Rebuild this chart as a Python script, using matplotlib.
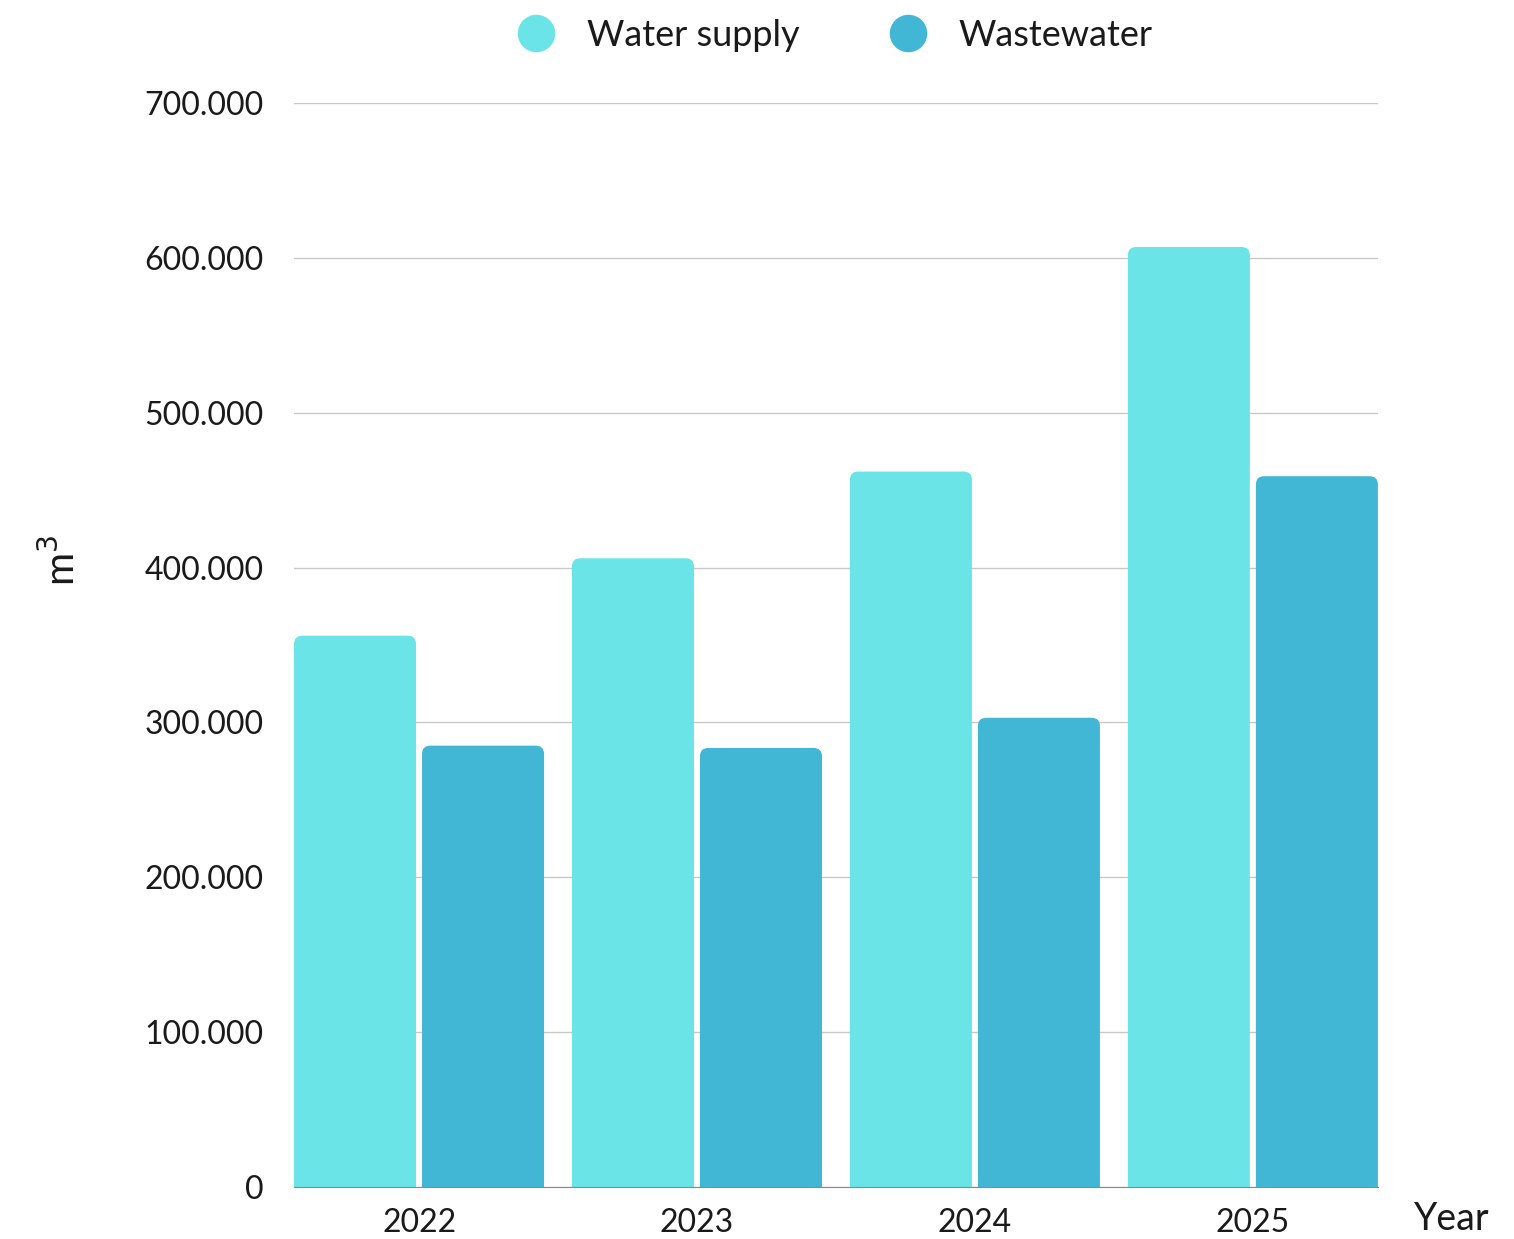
import matplotlib
matplotlib.use("Agg")
import matplotlib.pyplot as plt
from matplotlib.patches import FancyBboxPatch
from matplotlib.lines import Line2D
from matplotlib.ticker import FuncFormatter

years = ["2022", "2023", "2024", "2025"]
water_supply = [356000, 406000, 462000, 607000]
wastewater = [285000, 283500, 303000, 459000]
series_names = ["Water supply", "Wastewater"]
colors = ["#6be4e8", "#42b6d5"]

plt.rcParams['font.family'] = ['Lato', 'DejaVu Sans']

fig = plt.figure(figsize=(15.14, 12.39), dpi=100)
ax = fig.add_axes([294/1514, 1 - 1187/1239, 1084/1514, 1084/1239])

bw = 0.439
gap = 0.0216
x = list(range(len(years)))
b1 = ax.bar([i - 0.45 for i in x], water_supply, width=bw, align='edge', color=colors[0])
b2 = ax.bar([i - 0.45 + bw + gap for i in x], wastewater, width=bw, align='edge', color=colors[1])

ax.set_xlim(-0.45, len(years) - 1 + 0.45)
ax.set_ylim(0, 700000)

# swap plain bars for ones with rounded tops (bottom rounding falls below 0 and is clipped)
rad = 0.03
aspect = 179500
for bars in (b1, b2):
    for p in bars.patches:
        x0, y0 = p.get_x(), p.get_y()
        w, h = p.get_width(), p.get_height()
        rp = FancyBboxPatch((x0, y0 - 20000), w, h + 20000,
                            boxstyle=f"round,pad=0,rounding_size={rad}",
                            mutation_aspect=aspect, facecolor=p.get_facecolor(),
                            edgecolor='none', zorder=2)
        p.set_visible(False)
        ax.add_patch(rp)

ax.set_yticks(range(0, 700001, 100000))
ax.yaxis.set_major_formatter(FuncFormatter(lambda v, _: f"{int(v):,}".replace(",", ".")))
ax.set_xticks(x)
ax.set_xticklabels(years)
ax.tick_params(axis='both', length=0, labelsize=23, colors='#1a1a1a')
ax.tick_params(axis='y', pad=22)
ax.tick_params(axis='x', pad=15)

ax.grid(axis='y', color='#c8c8c8', lw=1)
ax.set_axisbelow(True)
for s in ['top', 'right', 'left']:
    ax.spines[s].set_visible(False)
ax.spines['bottom'].set_color('#888888')
ax.spines['bottom'].set_zorder(3)

ax.set_ylabel("m$^3$", fontsize=29, color='#1a1a1a')
ax.yaxis.set_label_coords(-0.196, 0.578)

fig.text(1452/1514, 1 - 1219/1239, "Year", fontsize=27, color='#1a1a1a', ha='center', va='center')

handles = [Line2D([], [], marker='o', ls='none', markersize=27, markerfacecolor=c,
                  markeredgecolor='none') for c in colors]
fig.legend(handles, series_names, loc='center', bbox_to_anchor=(826/1514, 1 - 35/1239),
           ncol=2, frameon=False, fontsize=26, handletextpad=0.4, columnspacing=2.0,
           labelcolor='#1a1a1a')

fig.savefig("out.png", dpi=100)
